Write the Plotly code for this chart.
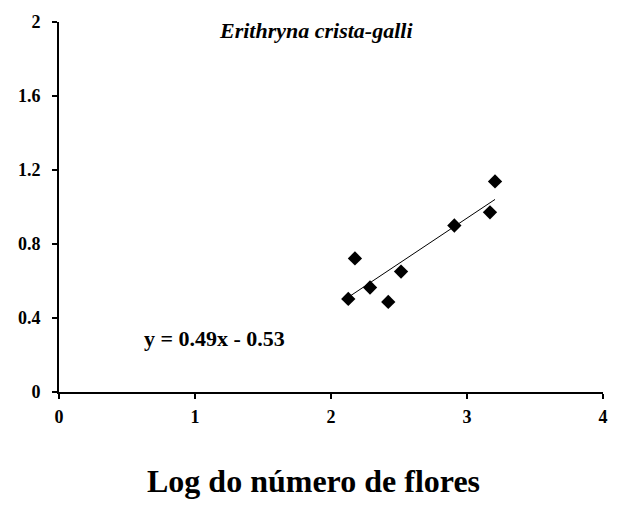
import plotly.graph_objects as go

# Log of flower number vs. response, Erithryna crista-galli
log_flores = [2.127, 2.176, 2.287, 2.421, 2.515, 2.907, 3.169, 3.206]
resposta = [0.503, 0.722, 0.565, 0.487, 0.651, 0.900, 0.971, 1.138]

# Fitted regression: y = 0.49x - 0.53
slope = 0.49
intercept = -0.53
fit_x = [min(log_flores), max(log_flores)]
fit_y = [slope * v + intercept for v in fit_x]

x_ticks = [0, 1, 2, 3, 4]
y_ticks = [0, 0.4, 0.8, 1.2, 1.6, 2]
y_tick_text = ["0", "0.4", "0.8", "1.2", "1.6", "2"]

font_family = "Liberation Serif, Times New Roman, serif"

fig = go.Figure()
fig.add_trace(go.Scatter(
    x=fit_x, y=fit_y, mode="lines",
    line=dict(color="black", width=1),
    hoverinfo="skip", showlegend=False,
))
fig.add_trace(go.Scatter(
    x=log_flores, y=resposta, mode="markers",
    marker=dict(symbol="diamond", size=11, color="black"),
    showlegend=False,
))

fig.update_layout(
    width=627, height=506,
    margin=dict(l=59, r=24, t=17, b=114),
    paper_bgcolor="white", plot_bgcolor="white",
    font=dict(family=font_family, color="black"),
    xaxis=dict(
        range=[0, 4], tickvals=x_ticks, ticktext=[f"<b>{v}</b>" for v in x_ticks],
        showgrid=False, zeroline=False, showline=True, linecolor="black", linewidth=2,
        ticks="outside", ticklen=5, tickwidth=2, tickcolor="black",
        ticklabelstandoff=2,
        tickfont=dict(size=18, family=font_family),
    ),
    yaxis=dict(
        range=[0, 2], tickvals=y_ticks, ticktext=[f"<b>{t}</b>" for t in y_tick_text],
        showgrid=False, zeroline=False, showline=True, linecolor="black", linewidth=2,
        ticks="outside", ticklen=5, tickwidth=2, tickcolor="black",
        ticklabelstandoff=8,
        tickfont=dict(size=18, family=font_family),
    ),
    annotations=[
        dict(x=1.89, y=1.955, xref="x", yref="y", showarrow=False,
             text="<b><i>Erithryna crista-galli</i></b>",
             font=dict(size=22, family=font_family)),
        dict(x=1.147, y=0.288, xref="x", yref="y", showarrow=False,
             text="<b>y = 0.49x - 0.53</b>",
             font=dict(size=22, family=font_family)),
        dict(x=0.467, y=-0.24, xref="paper", yref="paper", showarrow=False,
             xanchor="center", yanchor="middle",
             text="<b>Log do número de flores</b>",
             font=dict(size=32, family=font_family)),
    ],
)

fig.write_html("out.html")
